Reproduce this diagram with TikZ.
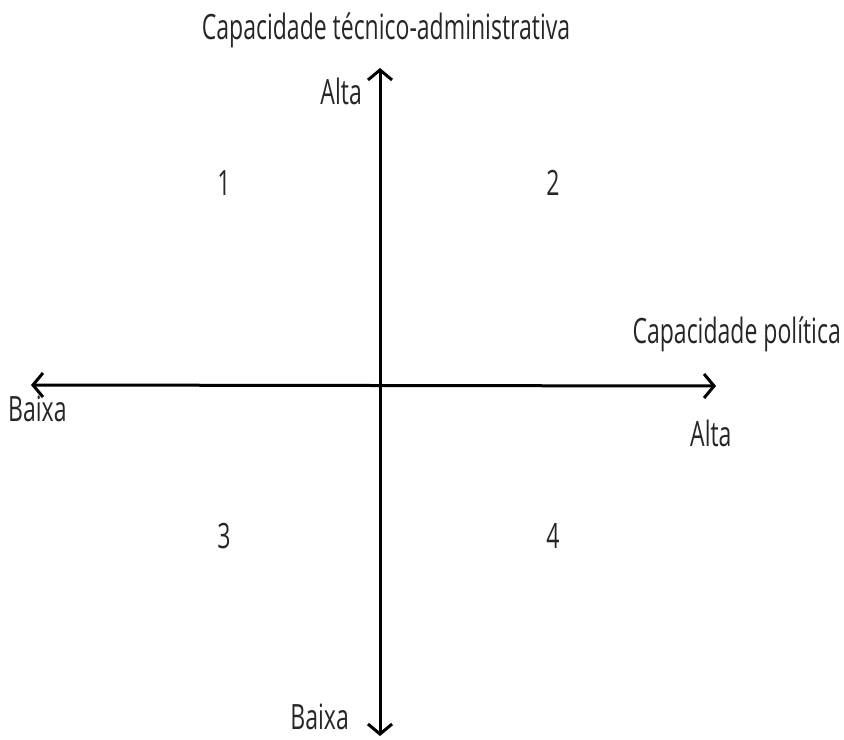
\documentclass[tikz,border=0pt]{standalone}
\usepackage{fontspec}
\setmainfont[FakeStretch=0.66]{Open Sans}
\usetikzlibrary{arrows.meta}
\begin{document}
\begin{tikzpicture}[x=1bp,y=-1bp,
  lbl/.style={font=\fontsize{35}{35}\selectfont, text=black!85, inner sep=0pt, anchor=base},
  ax/.style={line width=3bp, black, {Straight Barb[length=10bp,width=24bp,line width=3bp]}-{Straight Barb[length=10bp,width=24bp,line width=3bp]}}]
\useasboundingbox (0,0) rectangle (844,740);
\coordinate (top) at (380,68);
\coordinate (bot) at (380,736);
\coordinate (lft) at (31,385);
\coordinate (rgt) at (716,386);
\draw[ax] (top) -- (bot);
\draw[ax] (lft) -- (rgt);
\node[lbl] (tt) at (386,40) {Capacidade técnico-administrativa};
\node[lbl, anchor=base east] (at) at (362,104) {Alta};
\node[lbl] (q1) at (224,195) {1};
\node[lbl] (q2) at (553,195) {2};
\node[lbl, anchor=base east] (cp) at (841,343) {Capacidade política};
\node[lbl, anchor=base west] (bl) at (8,421) {Baixa};
\node[lbl, anchor=base west] (ar) at (690,446) {Alta};
\node[lbl] (q3) at (224,548) {3};
\node[lbl] (q4) at (553,548) {4};
\node[lbl, anchor=base east] (bb) at (349,729) {Baixa};
\end{tikzpicture}
\end{document}
